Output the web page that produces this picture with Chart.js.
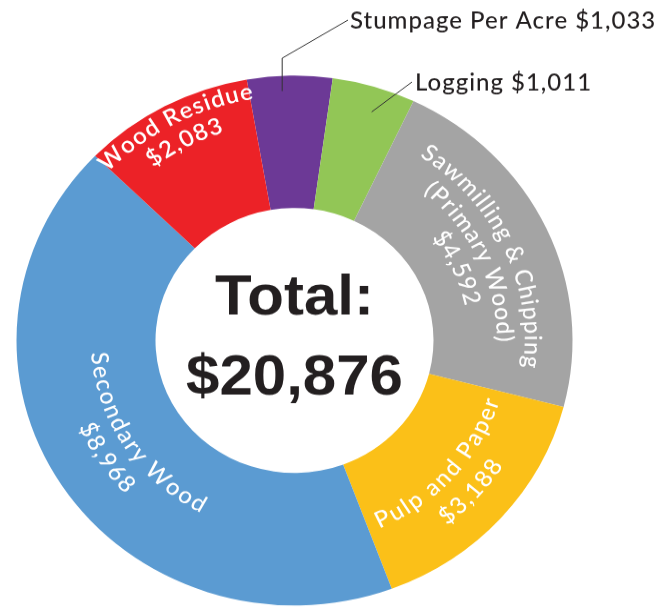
<!DOCTYPE html>
<html>
<head>
<meta charset="utf-8">
<script src="https://cdn.jsdelivr.net/npm/chart.js@4.4.0/dist/chart.umd.min.js"></script>
<style>
  html, body { margin: 0; padding: 0; background: #fff; overflow: hidden; }
  /* the source picture is slightly squashed vertically */
  #wrap { position: relative; width: 667px; height: 637px; transform: scaleY(0.953); transform-origin: 0 0; }
</style>
</head>
<body>
<div id="wrap"><canvas id="chart"></canvas></div>
<script>
const categories = ['Stumpage Per Acre', 'Logging', 'Sawmilling & Chipping (Primary Wood)', 'Pulp and Paper', 'Secondary Wood', 'Wood Residue']
const values = [1033, 1011, 4592, 3188, 8968, 2083]
const colors = ['#6c3996', '#92c656', '#a4a4a4', '#fbc018', '#5b9bd2', '#ec2227']
const totalLabel = '$20,876'
// text inside the ring, value line is added below; null = labelled outside
const ringLines = [null, null, ['Sawmilling & Chipping', '(Primary Wood)'], ['Pulp and Paper'], ['Secondary Wood'], ['Wood Residue']]

const ink = '#231f20'
const money = v => '$' + v.toLocaleString('en-US')

// draw text along a circle, centred on angle mid
function arcText(ctx, text, cx, cy, r, mid, flip, spacing) {
  const chars = [...text]
  const widths = chars.map(c => ctx.measureText(c).width + spacing)
  const total = widths.reduce((a, b) => a + b, 0) - spacing
  const dir = flip ? -1 : 1
  let a = mid - dir * total / 2 / r
  chars.forEach((c, i) => {
    const ang = a + dir * (widths[i] - spacing) / 2 / r
    ctx.save()
    ctx.translate(cx + r * Math.cos(ang), cy + r * Math.sin(ang))
    ctx.rotate(ang + (flip ? -Math.PI / 2 : Math.PI / 2))
    ctx.fillText(c, 0, 0)
    ctx.restore()
    a += dir * widths[i] / r
  })
}

// block centre radius, line height, reading direction, weight
const ringPos = {
  2: { r: 210, lh: 28, flip: false, weight: 500 },
  3: { r: 223, lh: 32, flip: true, weight: 500 },
  4: { r: 211, lh: 30, flip: true, weight: 500 },
  5: { r: 251, lh: 27, flip: false, weight: 600 },
}

const callouts = [
  { i: 0, inset: 16, shift: -1.7, elbowY: 61, end: [348, 21], text: [350, 30] },
  { i: 1, inset: 26, shift: 1.2, elbowY: null, end: [412, 86], text: [415, 95] },
]

const labelPlugin = {
  id: 'labels',
  afterDraw(chart) {
    const ctx = chart.ctx
    const arcs = chart.getDatasetMeta(0).data
    const cx = arcs[0].x
    const cy = arcs[0].y

    // labels inside the ring
    ctx.save()
    ctx.fillStyle = '#fff'
    ctx.textAlign = 'center'
    ctx.textBaseline = 'middle'
    Object.keys(ringPos).forEach(k => {
      const i = +k
      const p = ringPos[i]
      const arc = arcs[i]
      const mid = (arc.startAngle + arc.endAngle) / 2
      const lines = ringLines[i].concat(money(values[i]))
      const n = lines.length
      ctx.font = p.weight + ' 24px Lato'
      lines.forEach((t, j) => {
        const r = p.flip ? p.r - (n - 1) / 2 * p.lh + j * p.lh : p.r + (n - 1) / 2 * p.lh - j * p.lh
        arcText(ctx, t, cx, cy, r, mid, p.flip, 1.5)
      })
    })
    ctx.restore()

    // outside labels with leader lines
    ctx.save()
    ctx.strokeStyle = '#333'
    ctx.lineWidth = 1
    ctx.fillStyle = ink
    ctx.font = '500 24px Lato'
    ctx.letterSpacing = '1px'
    ctx.textAlign = 'left'
    ctx.textBaseline = 'alphabetic'
    callouts.forEach(c => {
      const arc = arcs[c.i]
      const mid = (arc.startAngle + arc.endAngle) / 2 + c.shift * Math.PI / 180
      const r = arc.outerRadius - c.inset
      const sx = cx + r * Math.cos(mid)
      const sy = cy + r * Math.sin(mid)
      ctx.beginPath()
      ctx.moveTo(sx, sy)
      if (c.elbowY !== null) ctx.lineTo(sx, c.elbowY)
      ctx.lineTo(c.end[0], c.end[1])
      ctx.stroke()
      ctx.fillText(categories[c.i] + ' ' + money(values[c.i]), c.text[0], c.text[1])
    })
    ctx.restore()

    // total in the hole
    ctx.save()
    ctx.fillStyle = ink
    ctx.font = 'bold 60px "Liberation Sans", Arial, sans-serif'
    ctx.textAlign = 'center'
    ctx.textBaseline = 'alphabetic'
    ctx.fillText('Total:', cx, cy - 27)
    ctx.fillText(totalLabel, cx, cy + 57)
    ctx.restore()
  },
}

new Chart(document.getElementById('chart'), {
  type: 'doughnut',
  data: {
    labels: categories,
    datasets: [
      {
        data: values,
        backgroundColor: colors,
        borderWidth: 0,
      },
    ],
  },
  options: {
    responsive: true,
    maintainAspectRatio: false,
    animation: false,
    cutout: '50%',
    rotation: -9.9,
    layout: { padding: { left: 16.5, right: 94.5, top: 79.3, bottom: 1.7 } },
    plugins: {
      legend: { display: false },
      tooltip: { enabled: false },
    },
  },
  plugins: [labelPlugin],
})
</script>
</body>
</html>
